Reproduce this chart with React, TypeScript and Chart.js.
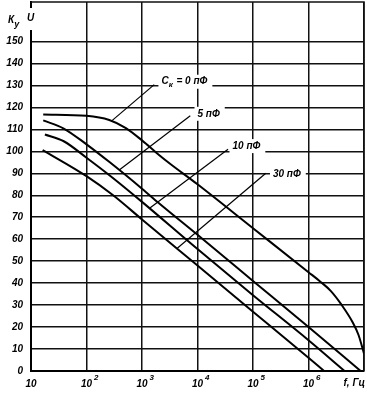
import React, { useEffect, useRef } from 'react';
import { Chart, registerables } from 'chart.js';

Chart.register(...registerables);

const FONT_FAMILY = "'Liberation Sans', 'DejaVu Sans', Arial, sans-serif";

// Axis ticks
const xTickValues = [1e1, 1e2, 1e3, 1e4, 1e5, 1e6, 1e7];
const xTickLabels = ['10', '10', '10', '10', '10', '10', ''];
const xTickExponents = ['', '2', '3', '4', '5', '6', ''];
const yTickValues = [0, 10, 20, 30, 40, 50, 60, 70, 80, 90, 100, 110, 120, 130, 140, 150];
const xMin = 10;
const xMax = 1e7;
const yMin = 0;
const yMax = 168;
const xUnitLabel = 'f, Гц';
const yLabelMain = 'К';
const yLabelSub = 'у';
const yLabelTail = 'U';

// Series: Ck = 0 pF
const freqC0 = [16.6, 100, 257, 513, 1000, 2000, 3160, 1e4, 1e5, 1e6, 1.58e6, 2.51e6, 3.98e6, 6.31e6, 7.94e6, 1e7];
const gainC0 = [116.8, 116.2, 114.3, 110.6, 105, 98.5, 94.5, 85, 65, 45, 41, 36.5, 30, 22, 16.5, 8];
// Ck = 5 pF
const freqC5 = [16.6, 38.9, 100, 263, 1000, 2000, 1e4, 1e5, 1e6, 8.71e6];
const gainC5 = [114.1, 110.4, 103.2, 95, 83, 76.5, 62, 41, 20, 0];
// Ck = 10 pF
const freqC10 = [17.8, 38.9, 100, 295, 1000, 1e4, 1e5, 1e6, 4.47e6];
const gainC10 = [107.7, 104.6, 97.1, 88, 77, 55.5, 34.5, 14, 0];
// Ck = 30 pF
const freqC30 = [16.2, 100, 302, 1000, 1e4, 1e5, 1e6, 1.91e6];
const gainC30 = [100.6, 88.7, 80, 69, 48, 27, 6, 0];

// Curve annotations (leaders + labels), in data coordinates
const noteMain = ['С', '5 пФ', '10 пФ', '30 пФ'];
const noteSub = ['к', '', '', ''];
const noteTail = [' = 0 пФ', '', '', ''];
const noteTextFreq = [2240, 1e4, 42700, 229000];
const noteTextGain = [131.7, 117.1, 102.4, 89.5];
const leaderFromFreq = [288, 389, 1350, 4270];
const leaderFromGain = [114, 91.5, 74, 55.8];
const leaderToFreq = [1660, 7410, 35500, 170000];
const leaderToGain = [130.4, 116.2, 101, 90];

const toPoints = (xs: number[], ys: number[]) => xs.map((x, i) => ({ x, y: ys[i] }));

const font = (size: number) => `italic bold ${size}px ${FONT_FAMILY}`;

const decorPlugin = {
  id: 'decor',
  beforeDatasetsDraw(chart: any) {
    const { ctx, chartArea } = chart;
    ctx.save();
    ctx.strokeStyle = '#111';
    ctx.lineWidth = 1.5;
    ctx.beginPath();
    ctx.moveTo(chartArea.left, chartArea.top);
    ctx.lineTo(chartArea.right, chartArea.top);
    ctx.lineTo(chartArea.right, chartArea.bottom);
    ctx.stroke();
    ctx.restore();
  },
  afterDraw(chart: any) {
    const { ctx, chartArea, scales } = chart;
    const xs = scales.x;
    const ys = scales.y;
    ctx.save();
    // leaders
    ctx.strokeStyle = '#000';
    ctx.lineWidth = 1.2;
    for (let i = 0; i < noteMain.length; i++) {
      ctx.beginPath();
      ctx.moveTo(xs.getPixelForValue(leaderFromFreq[i]), ys.getPixelForValue(leaderFromGain[i]));
      ctx.lineTo(xs.getPixelForValue(leaderToFreq[i]), ys.getPixelForValue(leaderToGain[i]));
      ctx.stroke();
    }
    // labels
    ctx.textBaseline = 'middle';
    ctx.textAlign = 'left';
    for (let i = 0; i < noteMain.length; i++) {
      const x0 = xs.getPixelForValue(noteTextFreq[i]);
      const y0 = ys.getPixelForValue(noteTextGain[i]);
      ctx.font = font(10);
      const w1 = ctx.measureText(noteMain[i]).width;
      ctx.font = font(8);
      const w2 = noteSub[i] ? ctx.measureText(noteSub[i]).width + 1 : 0;
      ctx.font = font(10);
      const w3 = ctx.measureText(noteTail[i]).width;
      const total = w1 + w2 + w3;
      ctx.fillStyle = '#fff';
      ctx.fillRect(x0 - 3, y0 - 7, total + 8, 14);
      ctx.fillStyle = '#000';
      ctx.font = font(10);
      ctx.fillText(noteMain[i], x0, y0);
      if (noteSub[i]) {
        ctx.font = font(8);
        ctx.fillText(noteSub[i], x0 + w1, y0 + 3);
      }
      ctx.font = font(10);
      ctx.fillText(noteTail[i], x0 + w1 + w2, y0);
    }
    // x tick exponents
    ctx.fillStyle = '#000';
    ctx.textAlign = 'left';
    ctx.textBaseline = 'top';
    for (let i = 0; i < xTickValues.length; i++) {
      if (!xTickExponents[i]) continue;
      const px = xs.getPixelForValue(xTickValues[i]);
      ctx.font = font(10);
      const w = ctx.measureText(xTickLabels[i]).width;
      ctx.font = font(8);
      ctx.fillText(xTickExponents[i], px + w / 2 + 2, chartArea.bottom + 3);
    }
    // x unit label
    ctx.font = font(10);
    ctx.textAlign = 'right';
    ctx.textBaseline = 'middle';
    ctx.fillStyle = '#000';
    ctx.fillText(xUnitLabel, chartArea.right + 1, chartArea.bottom + 12);
    // y axis title
    ctx.fillStyle = '#fff';
    ctx.fillRect(chartArea.left - 6, chartArea.top + 6, 12, 22);
    ctx.fillStyle = '#000';
    ctx.textAlign = 'left';
    ctx.textBaseline = 'alphabetic';
    ctx.font = font(10);
    ctx.fillText(yLabelMain, chartArea.left - 23, chartArea.top + 21);
    const kw = ctx.measureText(yLabelMain).width;
    ctx.font = font(9);
    ctx.fillText(yLabelSub, chartArea.left - 23 + kw, chartArea.top + 25);
    ctx.font = font(10);
    ctx.fillText(yLabelTail, chartArea.left - 4, chartArea.top + 19);
    ctx.restore();
  },
};

const lineStyle = {
  borderColor: '#000',
  borderWidth: 2,
  pointRadius: 0,
  fill: false,
  tension: 0.4,
  cubicInterpolationMode: 'monotone' as const,
};

export default function App() {
  const canvasRef = useRef<HTMLCanvasElement | null>(null);

  useEffect(() => {
    const canvas = canvasRef.current;
    if (!canvas) return;
    const chart = new Chart(canvas, {
      type: 'line',
      data: {
        datasets: [
          { label: 'Ск = 0 пФ', data: toPoints(freqC0, gainC0), ...lineStyle },
          { label: '5 пФ', data: toPoints(freqC5, gainC5), ...lineStyle },
          { label: '10 пФ', data: toPoints(freqC10, gainC10), ...lineStyle },
          { label: '30 пФ', data: toPoints(freqC30, gainC30), ...lineStyle },
        ],
      },
      options: {
        responsive: false,
        animation: false,
        devicePixelRatio: 1,
        layout: { padding: { left: 0, right: 3, top: 2, bottom: 0 } },
        plugins: {
          legend: { display: false },
          tooltip: { enabled: false },
          title: { display: false },
        },
        scales: {
          x: {
            type: 'logarithmic',
            min: xMin,
            max: xMax,
            afterBuildTicks: (scale: any) => {
              scale.ticks = xTickValues.map((v) => ({ value: v }));
            },
            afterFit: (scale: any) => {
              scale.height = 25;
              scale.paddingLeft = 0;
              scale.paddingRight = 0;
            },
            ticks: {
              autoSkip: false,
              maxRotation: 0,
              minRotation: 0,
              padding: 7,
              color: '#000',
              font: { family: FONT_FAMILY, size: 10, style: 'italic', weight: 'bold' },
              callback: (_v: any, i: number) => xTickLabels[i],
            },
            grid: { color: '#111', lineWidth: 1.5, drawTicks: false },
            border: { color: '#000', width: 2 },
          },
          y: {
            type: 'linear',
            min: yMin,
            max: yMax,
            afterBuildTicks: (scale: any) => {
              scale.ticks = yTickValues.map((v) => ({ value: v }));
            },
            afterFit: (scale: any) => {
              scale.width = 31;
              scale.paddingTop = 0;
              scale.paddingBottom = 0;
            },
            ticks: {
              autoSkip: false,
              padding: 8,
              color: '#000',
              font: { family: FONT_FAMILY, size: 10, style: 'italic', weight: 'bold' },
              callback: (v: any) => String(v),
            },
            grid: { color: '#111', lineWidth: 1.5, drawTicks: false },
            border: { color: '#000', width: 2 },
          },
        },
      },
      plugins: [decorPlugin],
    } as any);
    return () => chart.destroy();
  }, []);

  return (
    <div style={{ position: 'absolute', left: 0, top: 0, width: 367, height: 396, background: '#fff' }}>
      <canvas ref={canvasRef} width={367} height={396} style={{ display: 'block' }} />
    </div>
  );
}
